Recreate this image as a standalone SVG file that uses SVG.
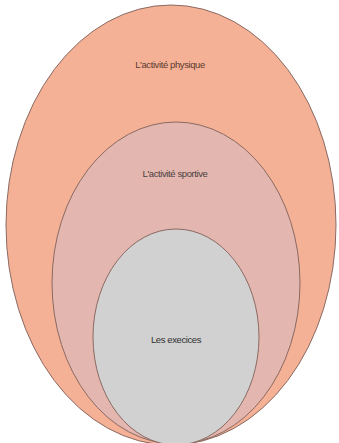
<svg xmlns="http://www.w3.org/2000/svg" width="339" height="443" viewBox="0 0 339 443">
  <style>
    .ring { stroke: #8a6a62; stroke-width: 1; }
    .lbl { font-family: "Liberation Sans", Arial, sans-serif; font-size: 9.5px; text-anchor: middle; letter-spacing: -0.4px; }
  </style>
  <rect width="339" height="443" fill="#ffffff"/>
  <g id="activite-physique">
    <ellipse class="ring" cx="171" cy="225" rx="165" ry="220" fill="#F5B196"/>
    <text class="lbl" x="170" y="68" fill="#5a3a30">L'activité physique</text>
  </g>
  <g id="activite-sportive">
    <ellipse class="ring" cx="176" cy="283" rx="124" ry="161" fill="#E3B7AF"/>
    <text class="lbl" x="175" y="177" fill="#4a4040">L'activité sportive</text>
  </g>
  <g id="exercices">
    <ellipse class="ring" cx="176" cy="337" rx="83" ry="108" fill="#D1D1D1"/>
    <text class="lbl" x="176" y="343" fill="#303030">Les execices</text>
  </g>
</svg>
